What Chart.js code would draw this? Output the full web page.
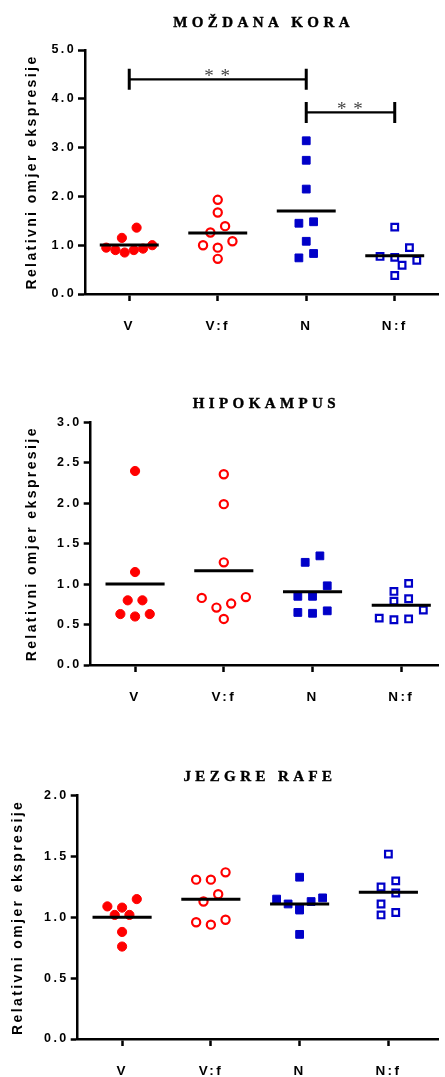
<!DOCTYPE html>
<html>
<head>
<meta charset="utf-8">
<script src="https://cdn.jsdelivr.net/npm/chart.js@4.4.1/dist/chart.umd.min.js"></script>
<style>
  html, body { margin: 0; padding: 0; background: #fff; overflow: hidden; }
  body { width: 445px; height: 1077px; position: relative; }
  .panel { position: absolute; left: 0; width: 445px; }
</style>
</head>
<body>
<div class="panel" style="top:0;height:336px"><canvas id="kora"></canvas></div>
<div class="panel" style="top:380px;height:327px"><canvas id="hipokampus"></canvas></div>
<div class="panel" style="top:755px;height:326px"><canvas id="rafe"></canvas></div>

<script>
const categories = ['V', 'V:f', 'N', 'N:f'];
const yAxisTitle = 'Relativni omjer ekspresije';

// Moždana kora
const koraV  = [1.36, 1.15, 1.00, 0.95, 0.93, 0.90, 0.90, 0.85];
const koraVf = [1.93, 1.67, 1.39, 1.26, 1.08, 1.00, 0.95, 0.72];
const koraN  = [3.14, 2.74, 2.15, 1.48, 1.45, 1.08, 0.83, 0.74];
const koraNf = [1.37, 0.95, 0.77, 0.75, 0.69, 0.59, 0.38];
// significance: [from group, to group, bracket level, label]
const koraComparisons = [[0, 2, 4.40, '**'], [2, 3, 3.72, '**']];

// Hipokampus
const hipoV  = [2.40, 1.15, 0.80, 0.80, 0.63, 0.63, 0.60];
const hipoVf = [2.36, 1.99, 1.27, 0.84, 0.83, 0.76, 0.71, 0.57];
const hipoN  = [1.35, 1.27, 0.98, 0.85, 0.85, 0.67, 0.65, 0.64];
const hipoNf = [1.01, 0.91, 0.82, 0.79, 0.68, 0.58, 0.57, 0.56];

// Jezgre rafe
const rafeV  = [1.15, 1.09, 1.08, 1.02, 1.02, 0.88, 0.76];
const rafeVf = [1.37, 1.31, 1.31, 1.19, 1.13, 0.98, 0.96, 0.94];
const rafeN  = [1.33, 1.16, 1.15, 1.13, 1.11, 1.07, 1.06, 0.86];
const rafeNf = [1.52, 1.30, 1.25, 1.20, 1.11, 1.04, 1.02];

const RED = '#ff0000';
const BLUE = '#0000c8';
const markers = [
  { pointStyle: 'circle', radius: 4.6, bg: RED, border: RED, bw: 1 },
  { pointStyle: 'circle', radius: 4.1, bg: '#fff', border: RED, bw: 2.2 },
  { pointStyle: 'rect', radius: 5.5, bg: BLUE, border: BLUE, bw: 1 },
  { pointStyle: 'rect', radius: 4.7, bg: '#fff', border: BLUE, bw: 2.2 }
];

const sansBold = (size) => ({ family: '"Liberation Sans", Arial, sans-serif', weight: 'bold', size });
const mean = (a) => a.reduce((s, v) => s + v, 0) / a.length;

const panelDecor = {
  id: 'panelDecor',
  beforeDraw(chart) {
    chart.ctx.letterSpacing = '2.4px';
  },
  afterDatasetsDraw(chart, args, o) {
    const ctx = chart.ctx, xs = chart.scales.x, ys = chart.scales.y;
    (o.comparisons || []).forEach(([a, b, level, label]) => {
      const x1 = xs.getPixelForValue(a), x2 = xs.getPixelForValue(b);
      const y = ys.getPixelForValue(level);
      ctx.save();
      ctx.strokeStyle = '#000';
      ctx.lineWidth = 2.2;
      ctx.beginPath(); ctx.moveTo(x1, y); ctx.lineTo(x2, y); ctx.stroke();
      ctx.lineWidth = 3;
      ctx.beginPath();
      ctx.moveTo(x1, y - 10.5); ctx.lineTo(x1, y + 10.5);
      ctx.moveTo(x2, y - 10.5); ctx.lineTo(x2, y + 10.5);
      ctx.stroke();
      ctx.letterSpacing = '1px';
      ctx.fillStyle = '#444';
      ctx.font = '19px "Liberation Serif", serif';
      ctx.textAlign = 'center';
      ctx.textBaseline = 'alphabetic';
      ctx.fillText(label.split('').join(' '), (x1 + x2) / 2, y + 3);
      ctx.restore();
    });
  },
  afterDraw(chart, args, o) {
    const ctx = chart.ctx, area = chart.chartArea;
    ctx.save();
    ctx.letterSpacing = '4.4px';
    ctx.fillStyle = '#000';
    ctx.strokeStyle = '#000';
    ctx.lineWidth = 0.4;
    ctx.font = 'bold 15px "Liberation Serif", serif';
    ctx.textAlign = 'center';
    ctx.textBaseline = 'middle';
    const tx = (area.left + area.right) / 2 + 2, ty = area.top - o.titleGap;
    ctx.fillText(o.title, tx, ty);
    ctx.strokeText(o.title, tx, ty);
    ctx.restore();
    ctx.letterSpacing = '0px';
  }
};

// spread the points of each group sideways, Prism-like rows
function arrangePoints(chart, groups) {
  const xs = chart.scales.x, ys = chart.scales.y;
  const pxPerCat = xs.getPixelForValue(1) - xs.getPixelForValue(0);
  const ROW_GAP = 11, STEP = 14.7, SPREAD = 46, D = 9.5, H = 7.35;
  groups.forEach((vals, gi) => {
    const pts = vals.map(v => ({ v, py: ys.getPixelForValue(v) })).sort((a, b) => a.py - b.py);
    const placed = [];
    let k = 0;
    while (k < pts.length) {
      const row = [pts[k]];
      let j = k + 1;
      while (j < pts.length && pts[j].py - pts[k].py < ROW_GAP) row.push(pts[j++]);
      k = j;
      const n = row.length;
      const step = n > 1 ? Math.min(STEP, SPREAD / (n - 1)) : 0;
      const slots = row.map((_, i) => (i - (n - 1) / 2) * step)
        .sort((a, b) => Math.abs(a) - Math.abs(b) || a - b);
      const ordered = row.slice().sort((a, b) => a.v - b.v);
      const shifts = [0, H, -H, 2 * H, -2 * H];
      let chosen = 0;
      for (const s of shifts) {
        const ok = ordered.every((p, i) => placed.every(q =>
          Math.hypot(slots[i] + s - q.px, p.py - q.py) >= D));
        if (ok) { chosen = s; break; }
      }
      ordered.forEach((p, i) => placed.push({ v: p.v, py: p.py, px: slots[i] + chosen }));
    }
    chart.data.datasets[gi].data = placed.map(p => ({ x: gi + p.px / pxPerCat, y: p.v }));
  });
  chart.update('none');
}

function makePanel(id, title, groups, opt) {
  const datasets = groups.map((vals, i) => ({
    type: 'scatter',
    label: categories[i],
    data: vals.map(v => ({ x: i, y: v })),
    pointStyle: markers[i].pointStyle,
    pointRadius: markers[i].radius,
    pointBackgroundColor: markers[i].bg,
    pointBorderColor: markers[i].border,
    pointBorderWidth: markers[i].bw,
    order: 2
  }));
  groups.forEach((vals, i) => {
    const m = mean(vals);
    datasets.push({
      type: 'line',
      data: [{ x: i - 0.333, y: m }, { x: i + 0.333, y: m }],
      borderColor: '#000',
      borderWidth: 3,
      borderCapStyle: 'butt',
      pointRadius: 0,
      order: 1
    });
  });

  const chart = new Chart(document.getElementById(id), {
    data: { datasets },
    options: {
      responsive: true,
      maintainAspectRatio: false,
      animation: false,
      layout: { padding: { top: opt.padTop, left: 0, right: 0, bottom: 0 } },
      plugins: {
        legend: { display: false },
        tooltip: { enabled: false },
        panelDecor: { title, titleGap: opt.titleGap, comparisons: opt.comparisons }
      },
      scales: {
        x: {
          type: 'linear',
          min: -0.5,
          max: opt.xMax,
          afterBuildTicks: (s) => { s.ticks = categories.map((c, i) => ({ value: i })); },
          ticks: {
            callback: (v) => categories[v] ?? '',
            color: '#000',
            font: sansBold(13.5),
            padding: 17,
            autoSkip: false,
            maxRotation: 0
          },
          grid: { drawOnChartArea: false, tickLength: 7, tickWidth: 2.5, tickColor: '#000' },
          border: { color: '#000', width: 2.5 },
          afterFit: (s) => { s.height = 42; }
        },
        y: {
          min: 0,
          max: opt.yMax,
          ticks: {
            stepSize: opt.yStep,
            callback: (v) => v.toFixed(1),
            color: '#000',
            font: sansBold(12.5),
            padding: 2
          },
          grid: { drawOnChartArea: false, tickLength: 7, tickWidth: 2.5, tickColor: '#000' },
          border: { color: '#000', width: 2.5 },
          title: {
            display: true,
            text: yAxisTitle,
            color: '#000',
            font: sansBold(14),
            padding: { top: opt.yTitlePad, bottom: 0 }
          },
          afterFit: (s) => { s.width = opt.left; }
        }
      }
    },
    plugins: [panelDecor]
  });
  arrangePoints(chart, groups);
  return chart;
}

makePanel('kora', 'MOŽDANA KORA', [koraV, koraVf, koraN, koraNf], {
  padTop: 50, left: 85, xMax: 3.49, yMax: 5, yStep: 1,
  yTitlePad: 24, titleGap: 27.3, comparisons: koraComparisons
});
makePanel('hipokampus', 'HIPOKAMPUS', [hipoV, hipoVf, hipoN, hipoNf], {
  padTop: 42.5, left: 90.7, xMax: 3.415, yMax: 3, yStep: 0.5,
  yTitlePad: 24, titleGap: 18.2
});
makePanel('rafe', 'JEZGRE RAFE', [rafeV, rafeVf, rafeN, rafeNf], {
  padTop: 40.7, left: 77.7, xMax: 3.56, yMax: 2, yStep: 0.5,
  yTitlePad: 10.2, titleGap: 18.7
});
</script>
</body>
</html>
